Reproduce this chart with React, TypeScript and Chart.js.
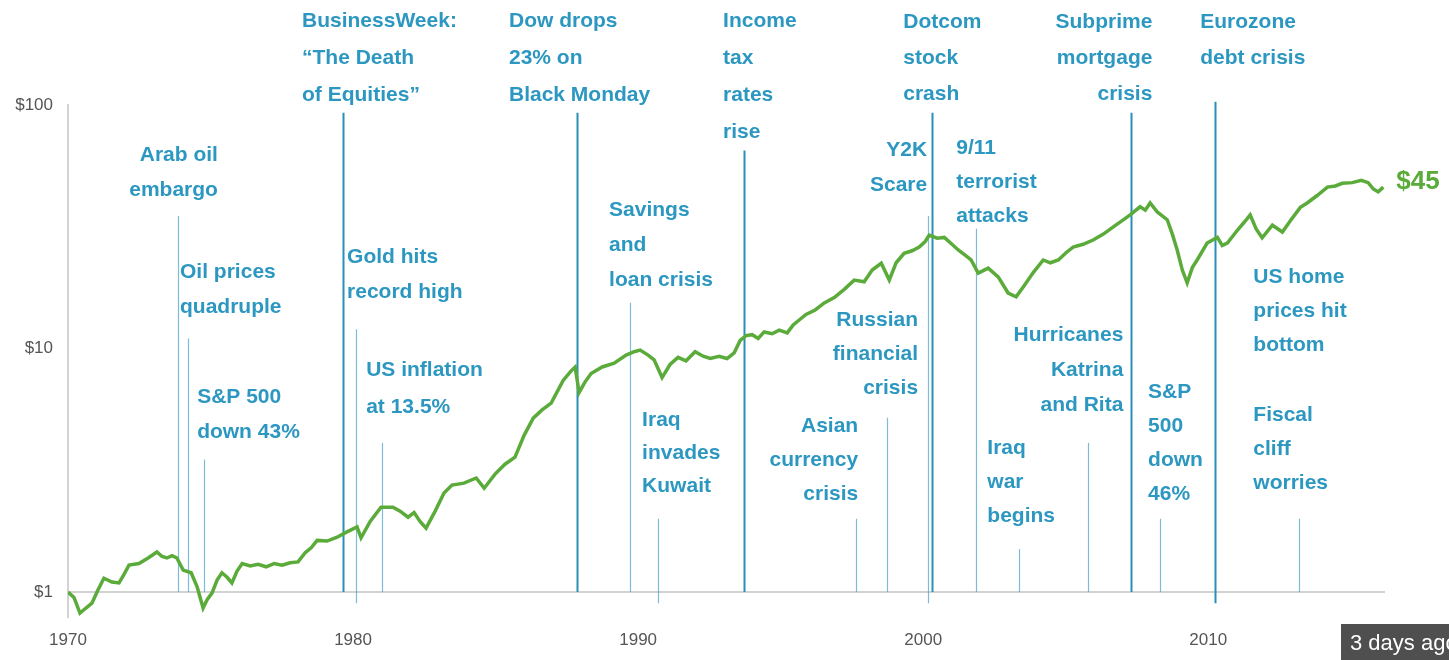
import React, { useEffect, useRef } from "react";
import { Chart, registerables } from "chart.js";

Chart.register(...registerables);

// ---- Data ----
const years: number[] = [
  1970.0, 1970.21, 1970.42, 1970.63, 1970.84, 1971.05, 1971.26, 1971.54, 1971.79, 1971.96,
  1972.14, 1972.49, 1972.81, 1973.12, 1973.3, 1973.47, 1973.65, 1973.82, 1974.04, 1974.32,
  1974.53, 1974.74, 1974.88, 1975.05, 1975.23, 1975.4, 1975.58, 1975.75, 1975.93, 1976.11,
  1976.39, 1976.67, 1976.95, 1977.23, 1977.51, 1977.79, 1978.07, 1978.32, 1978.53, 1978.74,
  1979.09, 1979.44, 1979.72, 1979.93, 1980.14, 1980.28, 1980.6, 1980.98, 1981.4, 1981.65,
  1981.93, 1982.14, 1982.35, 1982.56, 1982.88, 1983.19, 1983.47, 1983.89, 1984.32, 1984.6,
  1984.98, 1985.33, 1985.68, 1986.0, 1986.32, 1986.63, 1986.95, 1987.37, 1987.65, 1987.79,
  1987.93, 1988.14, 1988.35, 1988.74, 1989.16, 1989.58, 1989.86, 1990.07, 1990.35, 1990.56,
  1990.84, 1991.12, 1991.4, 1991.68, 1992.0, 1992.28, 1992.53, 1992.84, 1993.12, 1993.37,
  1993.58, 1993.79, 1994.0, 1994.21, 1994.42, 1994.7, 1994.95, 1995.23, 1995.44, 1995.65,
  1995.89, 1996.21, 1996.53, 1996.88, 1997.23, 1997.58, 1997.93, 1998.21, 1998.53, 1998.81,
  1999.05, 1999.33, 1999.61, 1999.86, 2000.07, 2000.21, 2000.49, 2000.74, 2000.98, 2001.23,
  2001.47, 2001.68, 2001.93, 2002.28, 2002.63, 2002.98, 2003.26, 2003.51, 2003.86, 2004.21,
  2004.46, 2004.74, 2005.02, 2005.26, 2005.61, 2005.96, 2006.32, 2006.67, 2006.98, 2007.26,
  2007.61, 2007.79, 2007.96, 2008.21, 2008.56, 2008.74, 2008.91, 2009.09, 2009.26, 2009.44,
  2009.61, 2009.96, 2010.32, 2010.49, 2010.67, 2011.02, 2011.26, 2011.47, 2011.68, 2011.89,
  2012.25, 2012.6, 2012.88, 2013.23, 2013.47, 2013.82, 2014.18, 2014.46, 2014.7, 2015.05,
  2015.37, 2015.61, 2015.79, 2015.96, 2016.14,
];

const values: number[] = [
  1.0, 0.95, 0.82, 0.86, 0.9, 1.02, 1.14, 1.1, 1.09, 1.18,
  1.29, 1.31, 1.38, 1.46, 1.4, 1.38, 1.41, 1.38, 1.23, 1.2,
  1.05, 0.86, 0.93, 0.99, 1.12, 1.2, 1.15, 1.09, 1.22, 1.31,
  1.28, 1.3, 1.27, 1.31, 1.29, 1.32, 1.33, 1.45, 1.52, 1.63,
  1.62, 1.68, 1.75, 1.8, 1.85, 1.67, 1.95, 2.23, 2.23, 2.15,
  2.03, 2.12, 1.95, 1.83, 2.15, 2.55, 2.75, 2.8, 2.94, 2.67,
  3.05, 3.35, 3.58, 4.4, 5.18, 5.6, 5.97, 7.4, 8.1, 8.4,
  6.6, 7.3, 7.9, 8.4, 8.7, 9.4, 9.7, 9.85, 9.4, 8.99,
  7.6, 8.6, 9.2, 8.9, 9.7, 9.3, 9.1, 9.3, 9.1, 9.6,
  10.8, 11.3, 11.4, 11.0, 11.7, 11.5, 11.9, 11.6, 12.5, 13.1,
  13.8, 14.4, 15.4, 16.2, 17.5, 19.1, 18.8, 21.0, 22.4, 19.1,
  22.5, 24.6, 25.2, 26.1, 27.5, 29.2, 28.4, 28.6, 27.0, 25.4,
  24.2, 23.1, 20.4, 21.4, 19.7, 16.9, 16.3, 17.9, 20.5, 23.1,
  22.5, 23.1, 24.8, 26.1, 26.8, 27.9, 29.5, 31.6, 33.5, 35.4,
  38.2, 37.0, 39.6, 36.4, 33.8, 29.5, 25.4, 21.0, 18.6, 21.5,
  23.1, 27.1, 28.6, 26.5, 27.1, 30.6, 33.0, 35.4, 31.0, 28.5,
  32.1, 30.1, 33.5, 38.0, 39.6, 42.5, 46.0, 46.5, 47.7, 48.0,
  49.1, 48.0, 45.2, 44.0, 46.0,
];

const xTickValues: number[] = [1970, 1980, 1990, 2000, 2010];
const yTickValues: number[] = [1, 10, 100];
const endLabel = "$45";
const badgeText = "3 days ago";

// Event rules: year, top value, bottom value, emphasized
const eventNames: string[] = [
  "Arab oil embargo", "Oil prices quadruple", "S&P 500 down 43%", "BusinessWeek",
  "Gold hits record high", "US inflation at 13.5%", "Black Monday", "Savings and loan crisis",
  "Iraq invades Kuwait", "Income tax rates rise", "Asian currency crisis", "Russian financial crisis",
  "Y2K Scare", "Dotcom stock crash", "9/11", "Iraq war begins", "Hurricanes", "Subprime",
  "S&P 500 down 46%", "Eurozone", "Fiscal cliff",
];
const eventYears: number[] = [
  1973.86, 1974.21, 1974.77, 1979.65, 1980.11, 1981.02, 1987.86, 1989.72, 1990.7, 1993.72,
  1997.65, 1998.74, 2000.18, 2000.32, 2001.86, 2003.37, 2005.79, 2007.3, 2008.32, 2010.25, 2013.19,
];
const eventTops: number[] = [
  35, 11, 3.5, 93, 12, 4.1, 93, 15.4, 2.0, 65, 2.0, 5.2, 35, 93, 31, 1.5, 4.1, 93, 2.0, 103, 2.0,
];
const eventBottoms: number[] = [
  1, 1, 1, 1, 0.9, 1, 1, 1, 0.9, 1, 1, 1, 0.9, 1, 1, 1, 1, 1, 1, 0.9, 1,
];
const eventMajor: boolean[] = [
  false, false, false, true, false, false, true, false, false, true,
  false, false, false, true, false, false, false, true, false, true, false,
];

// Text blocks: lines, anchor year, first line y (px), alignment
const labelTexts: string[][] = [
  ["BusinessWeek:", "\u201CThe Death", "of Equities\u201D"],
  ["Dow drops", "23% on", "Black Monday"],
  ["Income", "tax", "rates", "rise"],
  ["Dotcom", "stock", "crash"],
  ["Subprime", "mortgage", "crisis"],
  ["Eurozone", "debt crisis"],
  ["Arab oil", "embargo"],
  ["Oil prices", "quadruple"],
  ["S&P 500", "down 43%"],
  ["Gold hits", "record high"],
  ["US inflation", "at 13.5%"],
  ["Savings", "and", "loan crisis"],
  ["Iraq", "invades", "Kuwait"],
  ["Russian", "financial", "crisis"],
  ["Asian", "currency", "crisis"],
  ["Y2K", "Scare"],
  ["9/11", "terrorist", "attacks"],
  ["Hurricanes", "Katrina", "and Rita"],
  ["Iraq", "war", "begins"],
  ["S&P", "500", "down", "46%"],
  ["US home", "prices hit", "bottom"],
  ["Fiscal", "cliff", "worries"],
];
const labelYears: number[] = [
  1978.21, 1985.47, 1992.98, 1999.3, 2008.04, 2009.72, 1975.26, 1973.93, 1974.53, 1979.79,
  1980.46, 1988.98, 1990.14, 1999.82, 1997.72, 2000.14, 2001.16, 2007.02, 2002.25, 2007.89,
  2011.58, 2011.58,
];
const labelTopPx: number[] = [
  21, 21, 21, 22, 22, 22, 155, 272, 397, 257,
  370, 210, 420, 320, 426, 150, 148, 335, 448, 392,
  277, 415,
];
const labelAlign: string[] = [
  "left", "left", "left", "left", "right", "left", "right", "left", "left", "left",
  "left", "left", "left", "right", "right", "right", "left", "right", "left", "left",
  "left", "left",
];
const labelSpacing: number[] = [
  37, 37, 37, 36, 36, 36, 35, 35, 35, 35,
  37, 35, 33, 34, 34, 35, 34, 35, 34, 34,
  34, 34,
];

const TEAL = "#2c97c0";
const GREEN = "#5bab3a";
const FONT = "'Liberation Sans', Arial, sans-serif";

const annotationPlugin = {
  id: "annotations",
  beforeDatasetsDraw(chart: any) {
    const { ctx, chartArea, scales } = chart;
    const x = scales.x;
    const y = scales.y;
    ctx.save();
    // baseline at $1
    const by = y.getPixelForValue(1);
    ctx.strokeStyle = "#d2d2d2";
    ctx.lineWidth = 2;
    ctx.beginPath();
    ctx.moveTo(chartArea.left, by);
    ctx.lineTo(chartArea.right, by);
    ctx.stroke();
    // event rules
    eventYears.forEach((yr, i) => {
      const px = Math.round(x.getPixelForValue(yr)) + 0.5;
      ctx.strokeStyle = eventMajor[i] ? "#2a8fb8" : "rgba(80,165,200,0.75)";
      ctx.lineWidth = eventMajor[i] ? 2 : 1.2;
      ctx.beginPath();
      ctx.moveTo(px, y.getPixelForValue(eventTops[i]));
      ctx.lineTo(px, y.getPixelForValue(eventBottoms[i]));
      ctx.stroke();
    });
    ctx.restore();
  },
  afterDatasetsDraw(chart: any) {
    const { ctx, scales } = chart;
    const x = scales.x;
    const y = scales.y;
    ctx.save();
    ctx.fillStyle = TEAL;
    ctx.font = `bold 21px ${FONT}`;
    ctx.textBaseline = "middle";
    labelTexts.forEach((lines, i) => {
      const px = x.getPixelForValue(labelYears[i]);
      ctx.textAlign = labelAlign[i] as CanvasTextAlign;
      lines.forEach((t, j) => {
        ctx.fillText(t, px, labelTopPx[i] + j * labelSpacing[i]);
      });
    });
    // end label
    const lastYear = years[years.length - 1];
    const lastVal = values[values.length - 1];
    ctx.fillStyle = GREEN;
    ctx.font = `bold 26px ${FONT}`;
    ctx.textAlign = "left";
    ctx.fillText(endLabel, x.getPixelForValue(lastYear) + 13, y.getPixelForValue(lastVal) - 5);
    ctx.restore();
  },
  afterDraw(chart: any) {
    const { ctx, width, height } = chart;
    ctx.save();
    ctx.fillStyle = "#4f4f4f";
    ctx.fillRect(width - 108, height - 36, 108, 36);
    ctx.fillStyle = "#ffffff";
    ctx.font = `22px ${FONT}`;
    ctx.textAlign = "left";
    ctx.textBaseline = "middle";
    ctx.fillText(badgeText, width - 99, height - 16);
    ctx.restore();
  },
};

export default function App() {
  const ref = useRef<HTMLCanvasElement | null>(null);
  useEffect(() => {
    document.body.style.margin = "0";
    const canvas = ref.current;
    if (!canvas) return;
    const chart = new Chart(canvas, {
      type: "line",
      data: {
        datasets: [
          {
            data: years.map((yr, i) => ({ x: yr, y: values[i] })),
            borderColor: GREEN,
            borderWidth: 3.5,
            pointRadius: 0,
            tension: 0,
            fill: false,
          },
        ],
      },
      options: {
        animation: false,
        responsive: false,
        events: [],
        layout: { padding: { left: 0, top: 105, right: 64, bottom: 0 } },
        plugins: { legend: { display: false }, tooltip: { enabled: false } },
        scales: {
          x: {
            type: "linear",
            min: 1970,
            max: 2016.2,
            afterBuildTicks: (s: any) => {
              s.ticks = xTickValues.map((v) => ({ value: v }));
            },
            afterFit: (s: any) => {
              s.height = 43;
            },
            ticks: {
              callback: (v: any) => String(v),
              color: "#555",
              font: { family: FONT, size: 17 },
              padding: 13,
              maxRotation: 0,
              autoSkip: false,
            },
            grid: { display: false, drawTicks: false },
            border: { display: false },
          },
          y: {
            type: "logarithmic",
            min: 0.79,
            max: 100,
            afterBuildTicks: (s: any) => {
              s.ticks = yTickValues.map((v) => ({ value: v }));
            },
            afterFit: (s: any) => {
              s.width = 68;
            },
            ticks: {
              callback: (v: any) => "$" + v,
              color: "#555",
              font: { family: FONT, size: 17 },
              padding: 15,
              autoSkip: false,
            },
            grid: { display: false, drawTicks: false },
            border: { display: true, color: "#d2d2d2", width: 2 },
          },
        },
      },
      plugins: [annotationPlugin],
    });
    return () => chart.destroy();
  }, []);
  return <canvas ref={ref} width={1449} height={660} style={{ display: "block" }} />;
}
